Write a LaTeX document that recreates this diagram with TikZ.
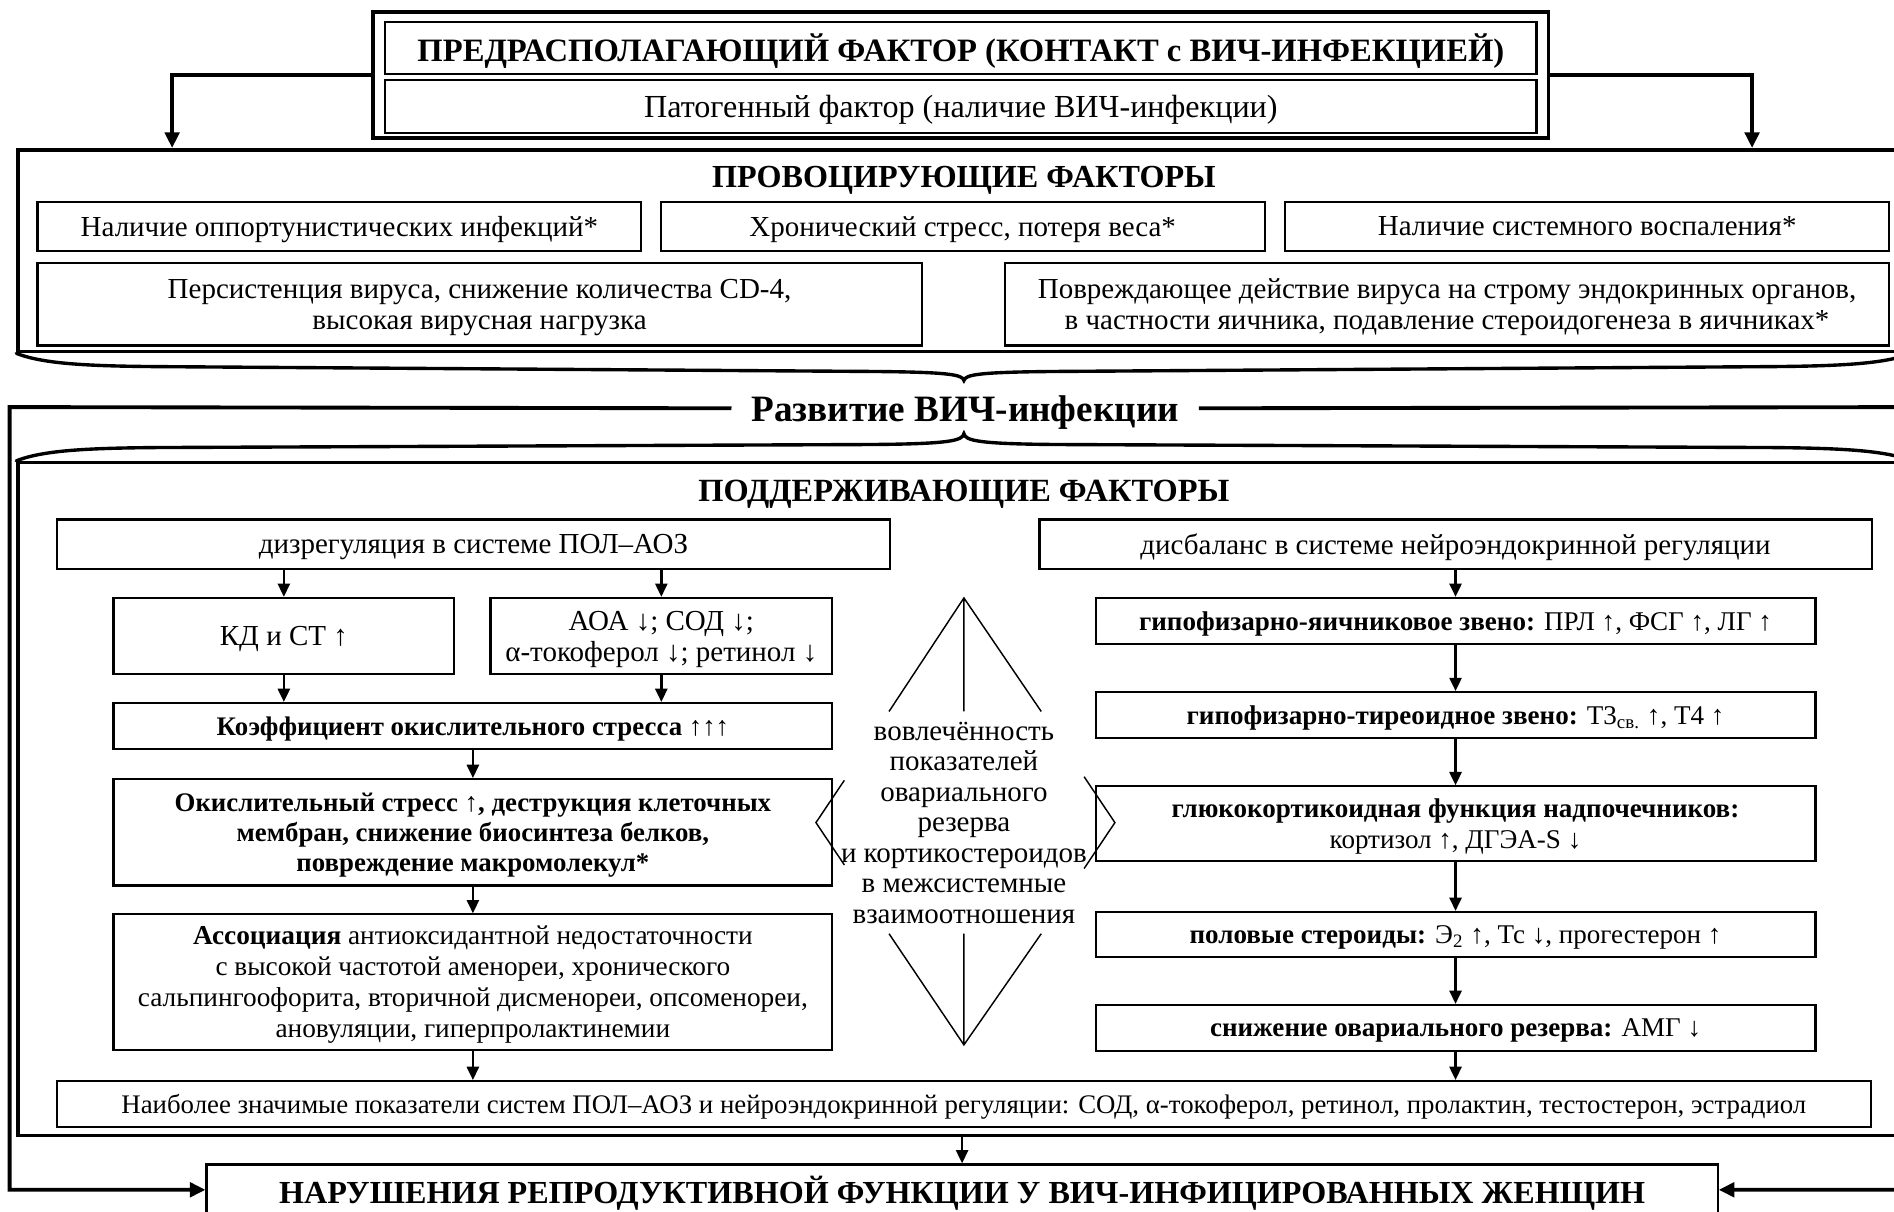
\documentclass[tikz,border=0pt]{standalone}
\usepackage{fontspec}
\setmainfont{Liberation Serif}
\usetikzlibrary{arrows.meta}

\begin{document}
\begin{tikzpicture}[x=0.5pt, y=-0.5pt,
  every node/.style={align=center, inner sep=0pt, text depth=0pt,
                     font=\fontsize{12}{12.8}\selectfont},
  box/.style={draw, line width=0.9pt},
  bigbox/.style={draw, line width=1.5pt},
  head/.style={font=\fontsize{13.3}{16}\selectfont\bfseries},
  smaller/.style={font=\fontsize{11.2}{12.6}\selectfont},
  arr/.style={-{Triangle[length=5.5pt, width=5pt]}, line width=1pt},
  link/.style={-{Triangle[length=6.5pt, width=6pt]}, line width=1.6pt},
  bracel/.style={line width=1.4pt, line cap=round},
  guide/.style={line width=0.6pt},
]
  \useasboundingbox (0,0) rectangle (1568,1003);

  % Top: predisposing factor
  \node[bigbox, minimum width=486.5pt, minimum height=52pt] (pre) at (795.5,62) {};
  \node[box, minimum width=476.5pt, minimum height=21.5pt,
        font=\fontsize{13.5}{15}\selectfont\bfseries] (pre1) at (795.5,39.5)
    {ПРЕДРАСПОЛАГАЮЩИЙ ФАКТОР (КОНТАКТ с ВИЧ-ИНФЕКЦИЕЙ)};
  \node[box, minimum width=476.5pt, minimum height=22pt,
        font=\fontsize{13.3}{15}\selectfont] (pre2) at (795.5,88)
    {Патогенный фактор (наличие ВИЧ-инфекции)};

  % Provoking factors
  \node[bigbox, minimum width=783pt, minimum height=83.5pt] (prov) at (798,207.5) {};
  \node[head] (provt) at (798,146) {ПРОВОЦИРУЮЩИЕ ФАКТОРЫ};
  \node[box, minimum width=250pt, minimum height=20.5pt] (opp) at (281,187.5)
    {Наличие оппортунистических инфекций*};
  \node[box, minimum width=250pt, minimum height=20.5pt] (stress) at (797,187.5)
    {Хронический стресс, потеря веса*};
  \node[box, minimum width=250pt, minimum height=20.5pt] (infl) at (1314,187.5)
    {Наличие системного воспаления*};
  \node[box, minimum width=366pt, minimum height=34pt] (pers) at (397,252)
    {Персистенция вируса, снижение количества CD-4,\\высокая вирусная нагрузка};
  \node[box, minimum width=366pt, minimum height=34pt] (dmg) at (1198,252)
    {Повреждающее действие вируса на строму эндокринных органов,\\в частности яичника, подавление стероидогенеза в яичниках*};

  % Braces round the development line
  \draw[bracel] (prov.south west) .. controls (35,301) and (70,303) .. (130,303.5)
    -- (720,307.5) .. controls (785,308) and (797,310) .. (798,315)
    .. controls (799,310) and (811,308) .. (876,307.5)
    -- (1466,303.5) .. controls (1526,303) and (1561,301) .. (prov.south east);
  \node[font=\fontsize{15.4}{18}\selectfont\bfseries, inner xsep=8pt] (dev) at (799,338)
    {Развитие ВИЧ-инфекции};
  \coordinate (lrail) at (8,337);
  \coordinate (rrail) at (1589,337);

  % Supporting factors
  \node[bigbox, minimum width=783pt, minimum height=278.5pt] (supp) at (798,661.5) {};
  \draw[bracel] (supp.north west) .. controls (35,373) and (70,371) .. (130,370.5)
    -- (720,368) .. controls (785,367.5) and (797,365) .. (798,359)
    .. controls (799,365) and (811,367.5) .. (876,368)
    -- (1466,370.5) .. controls (1526,371) and (1561,373) .. (supp.north east);
  \node[head, font=\fontsize{13.4}{16}\selectfont\bfseries] (suppt) at (798,406)
    {ПОДДЕРЖИВАЮЩИЕ ФАКТОРЫ};

  % Left column: LPO - antioxidant system
  \node[box, minimum width=345pt, minimum height=20.5pt] (pol) at (392,450.5)
    {дизрегуляция в системе ПОЛ–АОЗ};
  \node[box, minimum width=141pt, minimum height=31.5pt] (kd) at (235,526.5)
    {КД и СТ ↑};
  \node[box, minimum width=141.5pt, minimum height=31.5pt] (aoa) at (547.5,526.5)
    {АОА ↓; СОД ↓;\\α-токоферол ↓; ретинол ↓};
  \node[box, minimum width=297.5pt, minimum height=19pt,
        font=\fontsize{11.1}{12.8}\selectfont\bfseries] (koef) at (391.5,601)
    {Коэффициент окислительного стресса ↑↑↑};
  \node[box, minimum width=297.5pt, minimum height=44pt,
        font=\fontsize{11.1}{12.5}\selectfont\bfseries] (oxs) at (391.5,689)
    {Окислительный стресс ↑, деструкция клеточных\\мембран, снижение биосинтеза белков,\\повреждение макромолекул*};
  \node[box, minimum width=297.5pt, minimum height=56pt,
        font=\fontsize{11.3}{12.85}\selectfont] (assoc) at (391.5,813)
    {\textbf{Ассоциация} антиоксидантной недостаточности\\с высокой частотой аменореи, хронического\\сальпингоофорита, вторичной дисменореи, опсоменореи,\\ановуляции, гиперпролактинемии};

  % Right column: neuroendocrine regulation
  \node[box, minimum width=344.5pt, minimum height=20.5pt] (ner) at (1205,450.5)
    {дисбаланс в системе нейроэндокринной регуляции};
  \node[box, smaller, minimum width=298pt, minimum height=19pt] (hyo) at (1205,514)
    {\textbf{гипофизарно-яичниковое звено:} ПРЛ ↑, ФСГ ↑, ЛГ ↑};
  \node[box, smaller, minimum width=298pt, minimum height=19pt] (hyt) at (1205,592)
    {\textbf{гипофизарно-тиреоидное звено:} Т3\textsubscript{св.} ↑, Т4 ↑};
  \node[box, smaller, minimum width=298pt, minimum height=31pt] (gluc) at (1205,682)
    {\textbf{глюкокортикоидная функция надпочечников:}\\кортизол ↑, ДГЭА-S ↓};
  \node[box, smaller, minimum width=298pt, minimum height=18.5pt] (sex) at (1205,773.5)
    {\textbf{половые стероиды:} Э\textsubscript{2} ↑, Тс ↓, прогестерон ↑};
  \node[box, smaller, minimum width=298pt, minimum height=19pt] (amg) at (1205,851)
    {\textbf{снижение овариального резерва:} АМГ ↓};

  % Middle: interrelation of the two systems
  \node[font=\fontsize{12}{12.65}\selectfont] (mid) at (798,681)
    {вовлечённость\\показателей\\овариального\\резерва\\и кортикостероидов\\в межсистемные\\взаимоотношения};
  \draw[guide] (736,589) -- (798,495) -- (862,589) (798,495) -- (798,589);
  \draw[guide] (736,773) -- (798,865) -- (862,773) (798,865) -- (798,773);
  \draw[guide] (699,646) -- (675.5,681) -- (699,716);
  \draw[guide] (897.5,643) -- (923,681) -- (897.5,719);

  \node[box, minimum width=751pt, minimum height=19pt,
        font=\fontsize{11.1}{12.5}\selectfont] (sig) at (798,914)
    {Наиболее значимые показатели систем ПОЛ–АОЗ и нейроэндокринной регуляции: СОД, α-токоферол, ретинол, пролактин, тестостерон, эстрадиол};

  % Outcome
  \node[box, minimum width=625.5pt, minimum height=21pt,
        font=\fontsize{13.3}{16}\selectfont\bfseries] (out) at (796.5,985)
    {НАРУШЕНИЯ РЕПРОДУКТИВНОЙ ФУНКЦИИ У ВИЧ-ИНФИЦИРОВАННЫХ ЖЕНЩИН};

  % Arrows
  \draw[link] (pre.west) -| ([xshift=64.5pt]prov.north west);
  \draw[link] (pre.east) -| ([xshift=-66pt]prov.north east);
  \draw[link] (dev.west) -- (lrail) |- (out.west);
  \draw[link] (dev.east) -- (rrail) |- (out.east);
  \draw[arr] (kd |- pol.south) -- (kd.north);
  \draw[arr] (aoa |- pol.south) -- (aoa.north);
  \draw[arr] (kd.south) -- (kd |- koef.north);
  \draw[arr] (aoa.south) -- (aoa |- koef.north);
  \draw[arr] (koef) -- (oxs);
  \draw[arr] (oxs) -- (assoc);
  \draw[arr] (assoc.south) -- (assoc.south |- sig.north);
  \draw[arr] (ner) -- (hyo);
  \draw[arr] (hyo) -- (hyt);
  \draw[arr] (hyt) -- (gluc);
  \draw[arr] (gluc) -- (sex);
  \draw[arr] (sex) -- (amg);
  \draw[arr] (amg.south) -- (amg.south |- sig.north);
  \draw[arr] (out.north |- supp.south) -- (out.north);
\end{tikzpicture}
\end{document}
